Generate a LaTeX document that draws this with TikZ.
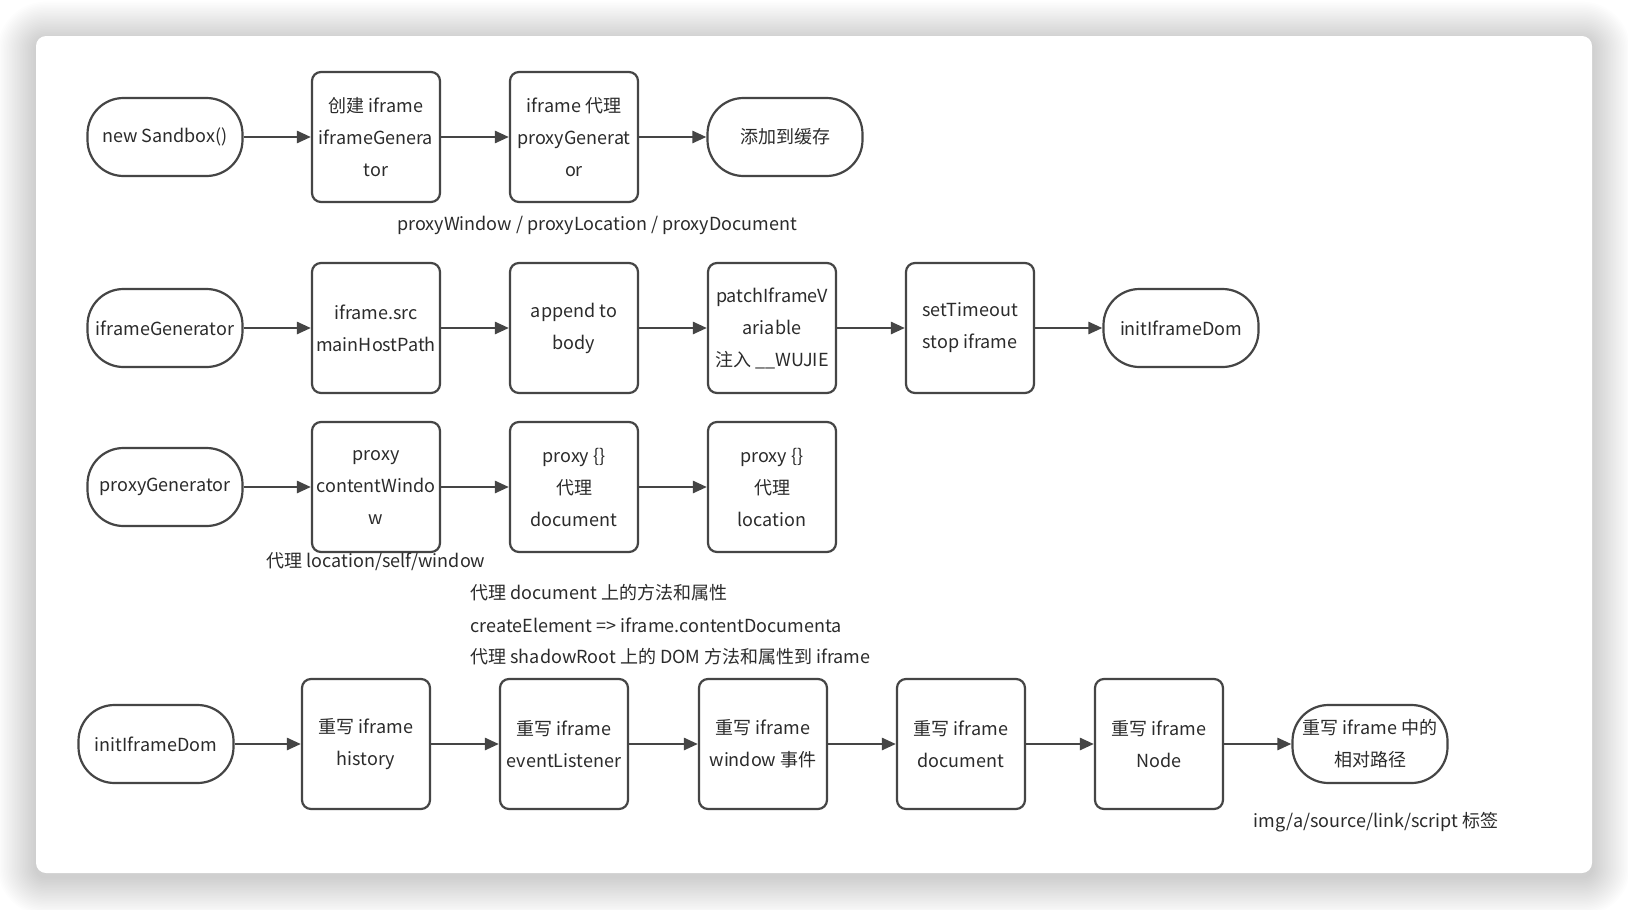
\documentclass[tikz,border=0pt]{standalone}
\usepackage{fontspec}
\setmainfont{Noto Sans CJK SC}
\usetikzlibrary{arrows.meta}
\definecolor{ink}{HTML}{454545}
\definecolor{txt}{HTML}{2b2b2b}

\begin{document}
\begin{tikzpicture}[x=1pt,y=-1pt,
  every node/.style={font=\fontsize{18}{32}\selectfont,text=txt},
  term/.style={draw=ink,line width=2.2pt,rounded corners=36pt,minimum width=155pt,
    minimum height=78pt,inner sep=0pt,align=center},
  proc/.style={draw=ink,line width=2.2pt,rounded corners=9pt,minimum width=128pt,
    minimum height=130pt,inner sep=0pt,align=center},
  flow/.style={draw=ink,line width=2.6pt,-{Triangle[length=14pt,width=12pt]}}]
\useasboundingbox (0,0) rectangle (1628,910);
% card with soft shadow
\fill[white] (0,0) rectangle (1628,910);
\foreach \r in {1,...,24}{
  \pgfmathsetmacro\rc{10+1.6*\r}
  \fill[black,opacity=0.008,rounded corners=\rc pt] (36-1.6*\r,40-1.6*\r) rectangle (1592+1.6*\r,877+1.6*\r);
}
\fill[white,rounded corners=10pt] (36,36) rectangle (1592,873);

% new Sandbox
\node[term] (sbx) at (165,137) {new Sandbox()};
\node[proc] (crt) at (376,137) {创建 iframe\\iframeGenera\\tor};
\node[proc] (pxy) at (574,137) {iframe 代理\\proxyGenerat\\or};
\node[term] (cache) at (785,137) {添加到缓存};
\node (pnote) at (597,225) {proxyWindow / proxyLocation / proxyDocument};

% iframeGenerator
\node[term] (ifg) at (165,328) {iframeGenerator};
\node[proc] (src) at (376,328) {iframe.src\\mainHostPath};
\node[proc] (app) at (574,328) {append to\\body};
\node[proc] (patch) at (772,328) {patchIframeV\\ariable\\注入 \_\_WUJIE};
\node[proc] (stop) at (970,328) {setTimeout\\stop iframe};
\node[term] (init) at (1181,328) {initIframeDom};

% proxyGenerator
\node[term] (pxg) at (165,487) {proxyGenerator};
\node[proc] (cw) at (376,487) {proxy\\contentWindo\\w};
\node[proc] (pdoc) at (574,487) {proxy \{\}\\代理\\document};
\node[proc] (ploc) at (772,487) {proxy \{\}\\代理\\location};
\node (cwnote) at (376,562) {代理 location/self/window};
\begin{scope}[every node/.append style={anchor=west}]
\node (dn1) at (467,593) {代理 document 上的方法和属性};
\node (dn2) at (467,625) {createElement => iframe.contentDocumenta};
\node (dn3) at (467,657) {代理 shadowRoot 上的 DOM 方法和属性到 iframe};
\end{scope}

% initIframeDom
\node[term] (init2) at (156,744) {initIframeDom};
\node[proc] (hist) at (366,744) {重写 iframe\\history};
\node[proc] (evt) at (564,744) {重写 iframe\\eventListener};
\node[proc] (win) at (763,744) {重写 iframe\\window 事件};
\node[proc] (doc) at (961,744) {重写 iframe\\document};
\node[proc] (nd) at (1159,744) {重写 iframe\\Node};
\node[term] (rel) at (1370,744) {重写 iframe 中的\\相对路径};
\node (relnote) at (1376,822) {img/a/source/link/script 标签};

\foreach \a/\b in {sbx/crt,crt/pxy,pxy/cache,
    ifg/src,src/app,app/patch,patch/stop,stop/init,
    pxg/cw,cw/pdoc,pdoc/ploc,
    init2/hist,hist/evt,evt/win,win/doc,doc/nd,nd/rel}
  \draw[flow] (\a) -- (\b);
\end{tikzpicture}
\end{document}
